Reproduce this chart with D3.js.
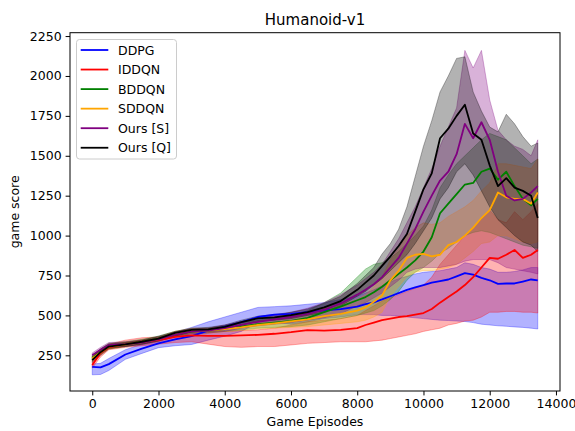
<!DOCTYPE html>
<html>
<head>
<meta charset="utf-8">
<script src="https://cdn.jsdelivr.net/npm/d3@7"></script>
<style>
  body { margin: 0; background: #fff; }
  svg { display: block; font-family: "DejaVu Sans", sans-serif; }
</style>
</head>
<body>
<div id="chart"></div>
<script>
// episodes sampled along the x axis
var episodes = [0, 250, 500, 1000, 1500, 2000, 2500, 3000, 3500, 4000, 4500, 5000, 5500, 6000, 6500, 7000, 7500, 8000,
  8250, 8500, 8750, 9000, 9250, 9500, 9750, 10000, 10250, 10500, 10750, 11000, 11250, 11500, 11750, 12000,
  12250, 12500, 12750, 13000, 13250, 13450];

var ddpgMean = [178, 175, 195, 255, 292, 325, 350, 370, 405, 430, 458, 490, 505, 510, 520, 532, 540, 555,
  570, 582, 600, 620, 640, 660, 675, 690, 705, 715, 725, 745, 765, 755, 735, 720, 698, 700, 700, 712, 725, 720];
var ddpgLow = [128, 130, 155, 225, 262, 298, 310, 318, 345, 370, 400, 455, 460, 445, 460, 480, 490, 505,
  505, 505, 500, 500, 495, 490, 485, 480, 475, 470, 468, 465, 462, 455, 445, 440, 435, 432, 428, 425, 420, 415];
var ddpgHigh = [195, 200, 230, 285, 320, 355, 395, 425, 460, 490, 520, 550, 555, 560, 570, 580, 600, 620,
  640, 660, 685, 710, 730, 745, 760, 770, 775, 780, 790, 800, 830, 820, 800, 790, 770, 770, 775, 785, 800, 800];

var iddqnMean = [190, 265, 300, 320, 335, 345, 365, 375, 372, 372, 375, 378, 385, 395, 408, 405, 410, 420,
  440, 455, 470, 480, 490, 495, 505, 515, 540, 580, 615, 650, 690, 740, 800, 860, 855, 880, 910, 860, 880, 910];
var iddqnLow = [170, 240, 285, 300, 310, 320, 330, 335, 320, 305, 300, 305, 305, 315, 325, 330, 335, 335,
  335, 340, 345, 355, 365, 375, 385, 400, 410, 420, 440, 450, 465, 470, 490, 520, 520, 525, 525, 520, 520, 515];
var iddqnHigh = [210, 285, 320, 345, 360, 365, 385, 400, 405, 400, 405, 410, 420, 440, 460, 470, 480, 500,
  530, 560, 590, 610, 630, 650, 670, 690, 740, 820, 880, 940, 1000, 1050, 1100, 1160, 1100, 1080, 1150, 1100, 1150, 1200];

var bddqnMean = [235, 275, 310, 320, 335, 355, 385, 400, 405, 418, 432, 445, 455, 465, 485, 520, 555, 595,
  615, 645, 680, 720, 760, 800, 845, 900, 990, 1140, 1200, 1260, 1320, 1330, 1400, 1420, 1350, 1400, 1310, 1230, 1190, 1230];
var bddqnLow = [220, 260, 295, 305, 320, 340, 370, 385, 390, 400, 410, 420, 425, 430, 440, 460, 480, 500,
  515, 530, 560, 600, 650, 720, 770, 800, 840, 890, 920, 960, 1000, 1020, 1030, 1020, 1000, 980, 960, 940, 930, 920];
var bddqnHigh = [250, 290, 325, 335, 350, 370, 400, 415, 420, 435, 455, 470, 485, 500, 530, 580, 640, 740,
  790, 820, 830, 860, 900, 950, 1000, 1060, 1160, 1300, 1380, 1450, 1500, 1550, 1600, 1640, 1620, 1600, 1550, 1500, 1450, 1480];

var sddqnMean = [230, 270, 305, 318, 332, 352, 385, 405, 405, 415, 425, 440, 450, 462, 475, 495, 510, 530,
  550, 585, 625, 720, 780, 860, 880, 885, 870, 880, 940, 960, 1000, 1050, 1110, 1160, 1270, 1240, 1230, 1230, 1200, 1270];
var sddqnLow = [215, 255, 290, 305, 320, 340, 370, 390, 390, 398, 405, 415, 420, 425, 430, 440, 450, 460,
  470, 490, 520, 620, 680, 740, 770, 780, 780, 790, 800, 820, 860, 900, 950, 960, 1000, 1000, 980, 960, 950, 960];
var sddqnHigh = [245, 285, 320, 332, 345, 365, 400, 420, 420, 432, 445, 465, 480, 495, 515, 545, 570, 600,
  630, 680, 740, 850, 920, 1000, 1050, 1080, 1070, 1080, 1120, 1150, 1180, 1220, 1280, 1330, 1450, 1450, 1440, 1430, 1420, 1480];

var oursSMean = [250, 285, 315, 320, 330, 350, 380, 400, 405, 420, 440, 460, 475, 490, 510, 535, 575, 630,
  660, 695, 740, 800, 860, 950, 1040, 1150, 1250, 1345, 1400, 1510, 1700, 1610, 1710, 1600, 1400, 1250, 1220, 1230, 1270, 1310];
var oursSLow = [235, 270, 300, 305, 315, 335, 365, 385, 390, 400, 420, 435, 445, 455, 470, 485, 510, 560,
  580, 610, 640, 680, 720, 770, 790, 800, 800, 800, 810, 820, 840, 850, 850, 850, 830, 800, 790, 780, 770, 760];
var oursSHigh = [265, 300, 330, 335, 345, 365, 395, 415, 420, 440, 460, 485, 500, 520, 545, 580, 630, 690,
  730, 770, 820, 900, 980, 1080, 1180, 1300, 1420, 1560, 1680, 1800, 2160, 2050, 2160, 1850, 1660, 1600, 1560, 1540, 1500, 1600];

var oursQMean = [220, 270, 305, 318, 335, 355, 390, 410, 412, 428, 458, 482, 488, 502, 520, 550, 590, 660,
  705, 750, 810, 870, 935, 1010, 1150, 1290, 1390, 1610, 1670, 1750, 1820, 1640, 1600, 1440, 1310, 1360, 1300, 1280, 1250, 1110];
var oursQLow = [205, 250, 290, 305, 320, 340, 370, 395, 400, 410, 440, 465, 470, 480, 500, 520, 560, 620,
  650, 690, 730, 780, 830, 880, 950, 1030, 1110, 1230, 1300, 1400, 1450, 1380, 1280, 1180, 1100, 1050, 1000, 960, 940, 900];
var oursQHigh = [235, 290, 320, 330, 345, 370, 400, 420, 425, 440, 470, 495, 505, 520, 540, 575, 620, 700,
  750, 800, 885, 950, 1040, 1180, 1370, 1560, 1720, 1900, 2000, 2110, 2120, 1900, 1780, 1680, 1650, 1760, 1700, 1620, 1560, 1580];

var seriesNames = ['DDPG', 'IDDQN', 'BDDQN', 'SDDQN', 'Ours [S]', 'Ours [Q]'];
var seriesColors = ['#0000ff', '#ff0000', '#008000', '#ffa500', '#800080', '#000000'];
var xTicks = [0, 2000, 4000, 6000, 8000, 10000, 12000, 14000];
var yTicks = [250, 500, 750, 1000, 1250, 1500, 1750, 2000, 2250];

var series = [
  { mean: ddpgMean, low: ddpgLow, high: ddpgHigh },
  { mean: iddqnMean, low: iddqnLow, high: iddqnHigh },
  { mean: bddqnMean, low: bddqnLow, high: bddqnHigh },
  { mean: sddqnMean, low: sddqnLow, high: sddqnHigh },
  { mean: oursSMean, low: oursSLow, high: oursSHigh },
  { mean: oursQMean, low: oursQLow, high: oursQHigh }
];

var width = 575, height = 431;
var plot = { left: 70, right: 560, top: 32.7, bottom: 391 };

var x = d3.scaleLinear().domain([-672, 14122]).range([plot.left, plot.right]);
var y = d3.scaleLinear().domain([26.5, 2271]).range([plot.bottom, plot.top]);

var svg = d3.select('#chart').append('svg')
  .attr('width', width)
  .attr('height', height);

svg.append('defs').append('clipPath').attr('id', 'clip')
  .append('rect')
  .attr('x', plot.left).attr('y', plot.top)
  .attr('width', plot.right - plot.left)
  .attr('height', plot.bottom - plot.top);

var g = svg.append('g').attr('clip-path', 'url(#clip)');

var area = d3.area()
  .x(function (d, i) { return x(episodes[i]); })
  .y0(function (d) { return y(d[0]); })
  .y1(function (d) { return y(d[1]); });

var line = d3.line()
  .x(function (d, i) { return x(episodes[i]); })
  .y(function (d) { return y(d); });

// shaded bands first, mean lines on top
series.forEach(function (s, k) {
  var band = s.low.map(function (v, i) { return [v, s.high[i]]; });
  g.append('path')
    .attr('d', area(band))
    .attr('fill', seriesColors[k])
    .attr('fill-opacity', 0.3)
    .attr('stroke', seriesColors[k])
    .attr('stroke-opacity', 0.3)
    .attr('stroke-width', 1);
});
series.forEach(function (s, k) {
  g.append('path')
    .attr('d', line(s.mean))
    .attr('fill', 'none')
    .attr('stroke', seriesColors[k])
    .attr('stroke-width', 1.8)
    .attr('stroke-linejoin', 'round');
});

// axes
var xAxis = svg.append('g')
  .attr('transform', 'translate(0,' + plot.bottom + ')')
  .call(d3.axisBottom(x).tickValues(xTicks).tickSize(4.4).tickPadding(4).tickFormat(d3.format('d')));
var yAxis = svg.append('g')
  .attr('transform', 'translate(' + plot.left + ',0)')
  .call(d3.axisLeft(y).tickValues(yTicks).tickSize(4.4).tickPadding(4).tickFormat(d3.format('d')));

[xAxis, yAxis].forEach(function (a) {
  a.select('.domain').remove();
  a.selectAll('line').attr('stroke', '#000').attr('stroke-width', 1);
  a.selectAll('text').attr('fill', '#000').style('font-size', '12.5px')
    .style('font-family', '"DejaVu Sans", sans-serif');
});

svg.append('rect')
  .attr('x', plot.left).attr('y', plot.top)
  .attr('width', plot.right - plot.left)
  .attr('height', plot.bottom - plot.top)
  .attr('fill', 'none')
  .attr('stroke', '#000')
  .attr('stroke-width', 1);

svg.append('text')
  .attr('x', (plot.left + plot.right) / 2)
  .attr('y', 25)
  .attr('text-anchor', 'middle')
  .style('font-size', '15px')
  .text('Humanoid-v1');

svg.append('text')
  .attr('x', (plot.left + plot.right) / 2)
  .attr('y', 426)
  .attr('text-anchor', 'middle')
  .style('font-size', '12.5px')
  .text('Game Episodes');

svg.append('text')
  .attr('transform', 'translate(19,' + ((plot.top + plot.bottom) / 2) + ') rotate(-90)')
  .attr('text-anchor', 'middle')
  .style('font-size', '12.5px')
  .text('game score');

// legend
var legend = svg.append('g');
legend.append('rect')
  .attr('x', 76.5).attr('y', 39.5)
  .attr('width', 100).attr('height', 119.5)
  .attr('rx', 3)
  .attr('fill', '#fff').attr('fill-opacity', 0.8)
  .attr('stroke', '#cccccc').attr('stroke-width', 1);

seriesNames.forEach(function (name, k) {
  var ly = 50 + k * 19.55;
  legend.append('line')
    .attr('x1', 80.7).attr('x2', 108.3)
    .attr('y1', ly).attr('y2', ly)
    .attr('stroke', seriesColors[k])
    .attr('stroke-width', 1.8);
  legend.append('text')
    .attr('x', 118)
    .attr('y', ly + 4.5)
    .style('font-size', '12.5px')
    .text(name);
});
</script>
</body>
</html>
